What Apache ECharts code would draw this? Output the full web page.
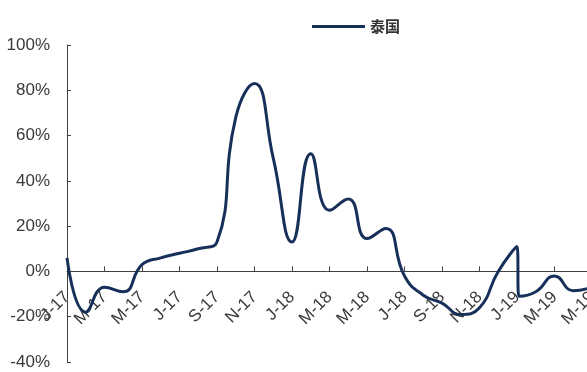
<!DOCTYPE html>
<html>
<head>
<meta charset="utf-8">
<script src="https://cdn.jsdelivr.net/npm/echarts@6/dist/echarts.min.js"></script>
<style>
  html, body { margin: 0; padding: 0; background: #fff; }
  #chart { width: 587px; height: 372px; }
</style>
</head>
<body>
<div id="chart"></div>
<script>
// Month labels shown every two months, starting Jan 2017
const tickLabels = ['J-17', 'M-17', 'M-17', 'J-17', 'S-17', 'N-17', 'J-18', 'M-18', 'M-18', 'J-18', 'S-18', 'N-18', 'J-19', 'M-19', 'M-19'];
// Position of each observation, in months since Jan 2017
const months = [0, 1, 2, 3, 4, 5, 6, 7, 8, 9, 10, 11, 12, 13, 14, 15, 16, 17, 18, 19, 20, 21, 22, 23, 24, 24.1, 25, 26, 27, 28];
// Year-on-year change, %
const thailand = [6, -18, -7, -9, 3, 6, 8, 10, 13, 68, 83, 50, 13, 52, 27, 32, 14.5, 19, -2, -10.5, -14, -19, -16, 0, 11, -11, -9, -2, -8.5, -7];
const yTicks = [-40, -20, 0, 20, 40, 60, 80, 100];

const seriesData = months.map((m, i) => [m, thailand[i]]);

const W = 587, H = 372;
const gridTop = 45, gridBottom = 10;
const yMin = yTicks[0], yMax = yTicks[yTicks.length - 1];
// Month labels sit just under the zero line, so lift the label axis from the grid bottom to y = 0
const plotH = H - gridTop - gridBottom;
const zeroLift = plotH * (0 - yMin) / (yMax - yMin);

const chart = echarts.init(document.getElementById('chart'), null, { renderer: 'canvas' });
const labelFont = { fontFamily: 'Liberation Sans, Arial, sans-serif', fontSize: 17, color: '#3a3a3a' };
const navy = '#17305a';

const monthAxisBase = { type: 'value', min: 0, max: 28, interval: 2, splitLine: { show: false } };

chart.setOption({
  animation: false,
  backgroundColor: '#ffffff',
  grid: { left: 67, right: -5, top: gridTop, bottom: gridBottom, containLabel: false, outerBoundsMode: 'none' },
  legend: {
    data: [{ name: '泰国', icon: 'rect' }],
    left: 307,
    top: 14,
    itemWidth: 53,
    itemHeight: 3,
    itemGap: 6,
    itemStyle: { color: navy },
    textStyle: { fontFamily: 'Noto Sans CJK SC', fontSize: 15, fontWeight: 'bold', color: '#333' }
  },
  xAxis: [
    Object.assign({}, monthAxisBase, {
      axisLine: { onZero: true, lineStyle: { color: '#404040', width: 1 } },
      axisTick: { show: true, inside: true, length: 5, lineStyle: { color: '#404040' } },
      axisLabel: { show: false }
    }),
    Object.assign({}, monthAxisBase, {
      position: 'bottom',
      offset: -zeroLift,
      axisLine: { show: false, onZero: false },
      axisTick: { show: false },
      axisLabel: Object.assign({
        rotate: 45,
        margin: 23,
        showMaxLabel: true,
        hideOverlap: false,
        formatter: v => tickLabels[Math.round(v / 2)] || ''
      }, labelFont)
    })
  ],
  yAxis: {
    type: 'value',
    min: yMin,
    max: yMax,
    interval: 20,
    axisLine: { show: true, onZero: false, lineStyle: { color: '#404040', width: 1 } },
    axisTick: { show: true, inside: true, length: 4, lineStyle: { color: '#404040' } },
    splitLine: { show: false },
    axisLabel: Object.assign({ margin: 17, formatter: '{value}%' }, labelFont)
  },
  series: [{
    name: '泰国',
    type: 'line',
    xAxisIndex: 0,
    data: seriesData,
    smooth: 0.5,
    symbol: 'none',
    clip: false,
    lineStyle: { color: navy, width: 3 },
    itemStyle: { color: navy }
  }]
});
</script>
</body>
</html>
